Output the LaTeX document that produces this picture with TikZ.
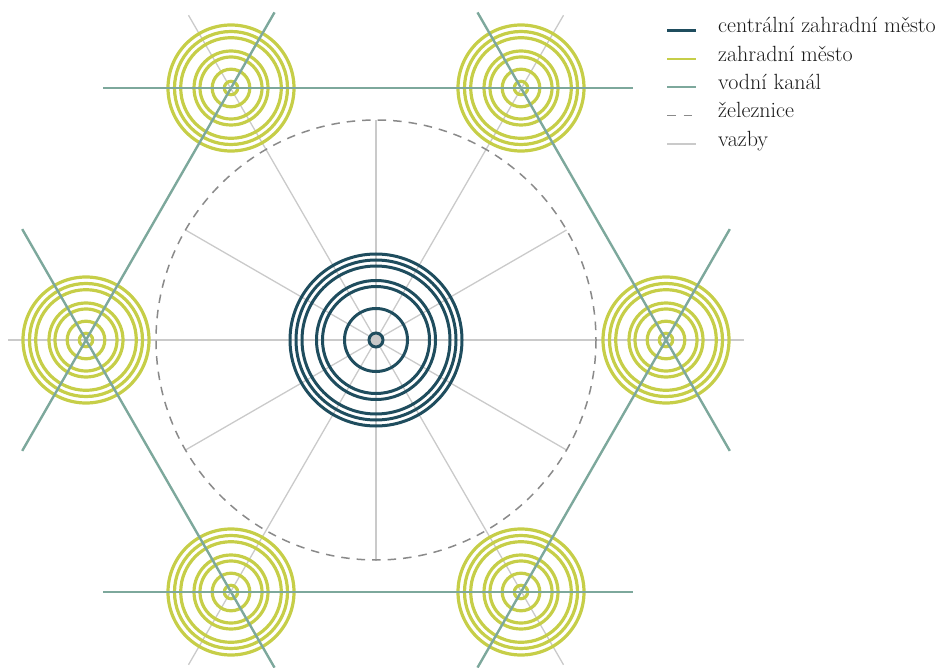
\documentclass[tikz,border=0pt]{standalone}
\usetikzlibrary{calc}
\definecolor{centrC}{HTML}{1F4D5E}
\definecolor{satC}{HTML}{C6CE48}
\definecolor{kanalC}{HTML}{7DA89C}
\definecolor{zelC}{HTML}{8A8A8A}
\definecolor{vazbaC}{HTML}{CACACA}
\definecolor{dotC}{HTML}{C8C8C8}
\definecolor{txtC}{HTML}{1A1A1A}
\begin{document}
\begin{tikzpicture}[x=1pt,y=-1pt,
  vazba/.style={draw=vazbaC, line width=1.3pt},
  kanal/.style={draw=kanalC, line width=2.4pt},
  zel/.style={draw=zelC, line width=1.5pt, dash pattern=on 8.5pt off 7pt},
  centr/.style={draw=centrC, line width=3pt},
  sat/.style={draw=satC, line width=3.2pt},
  legtxt/.style={anchor=mid west, font=\fontsize{22}{26}\selectfont, text=txtC, inner sep=0pt}]
\useasboundingbox (0,0) rectangle (944,668);
\begin{scope}
\clip (0,0) rectangle (944,668);
% centres
\coordinate (C) at (376,340);
\coordinate (L) at (86,340);
\coordinate (R) at (666,340);
\coordinate (TL) at (231,88);
\coordinate (TR) at (521,88);
\coordinate (BL) at (231,592);
\coordinate (BR) at (521,592);
% vazby
\draw[vazba] ($(C)+(-368,0)$) coordinate (hl) -- ($(C)+(368,0)$) coordinate (hr);
\foreach \a in {60,120,240,300} \draw[vazba] (C) -- ++(\a:375);
\foreach \a in {30,90,150,210,270,330} \draw[vazba] (C) -- ++(\a:220);
% zeleznice
\draw[zel] (C) circle (220);
% central rings
\foreach \r in {86,80,74,59.5,53.5,31.5} \draw[centr] (C) circle (\r);
\filldraw[centr, fill=dotC] (C) circle (7);
% satellite rings
\foreach \s in {L,R,TL,TR,BL,BR}{
  \foreach \r in {63,56.5,50.3,37,31,18.8,6.7} \draw[sat] (\s) circle (\r);
}
% canals
\draw[kanal] ($(TL)!-0.44!(TR)$) -- ($(TR)!-0.385!(TL)$);
\draw[kanal] ($(BL)!-0.44!(BR)$) -- ($(BR)!-0.385!(BL)$);
\draw[kanal] ($(TL)!-0.3!(L)$) -- ($(L)!-0.44!(TL)$);
\draw[kanal] ($(BL)!-0.3!(L)$) -- ($(L)!-0.44!(BL)$);
\draw[kanal] ($(TR)!-0.3!(R)$) -- ($(R)!-0.44!(TR)$);
\draw[kanal] ($(BR)!-0.3!(R)$) -- ($(R)!-0.44!(BR)$);
\end{scope}
% legend
\coordinate (g1a) at (667,30.7);  \coordinate (g1b) at (696,30.7);
\coordinate (g2a) at (667,59);    \coordinate (g2b) at (696,59);
\coordinate (g3a) at (667,87.3);  \coordinate (g3b) at (696,87.3);
\coordinate (g4a) at (667,115.6); \coordinate (g4b) at (696,115.6);
\coordinate (g5a) at (667,144);   \coordinate (g5b) at (696,144);
\draw[centr] (g1a) -- (g1b);
\draw[sat, line width=2.8pt] (g2a) -- (g2b);
\draw[kanal] (g3a) -- (g3b);
\draw[zel, dash pattern=on 8.5pt off 8pt] (g4a) -- (g4b);
\draw[vazba] (g5a) -- (g5b);
\node[legtxt] (t1) at (718,30.7) {centrální zahradní město};
\node[legtxt] (t2) at (718,59) {zahradní město};
\node[legtxt] (t3) at (718,87.3) {vodní kanál};
\node[legtxt] (t4) at (718,115.6) {železnice};
\node[legtxt] (t5) at (718,144) {vazby};
\end{tikzpicture}
\end{document}
